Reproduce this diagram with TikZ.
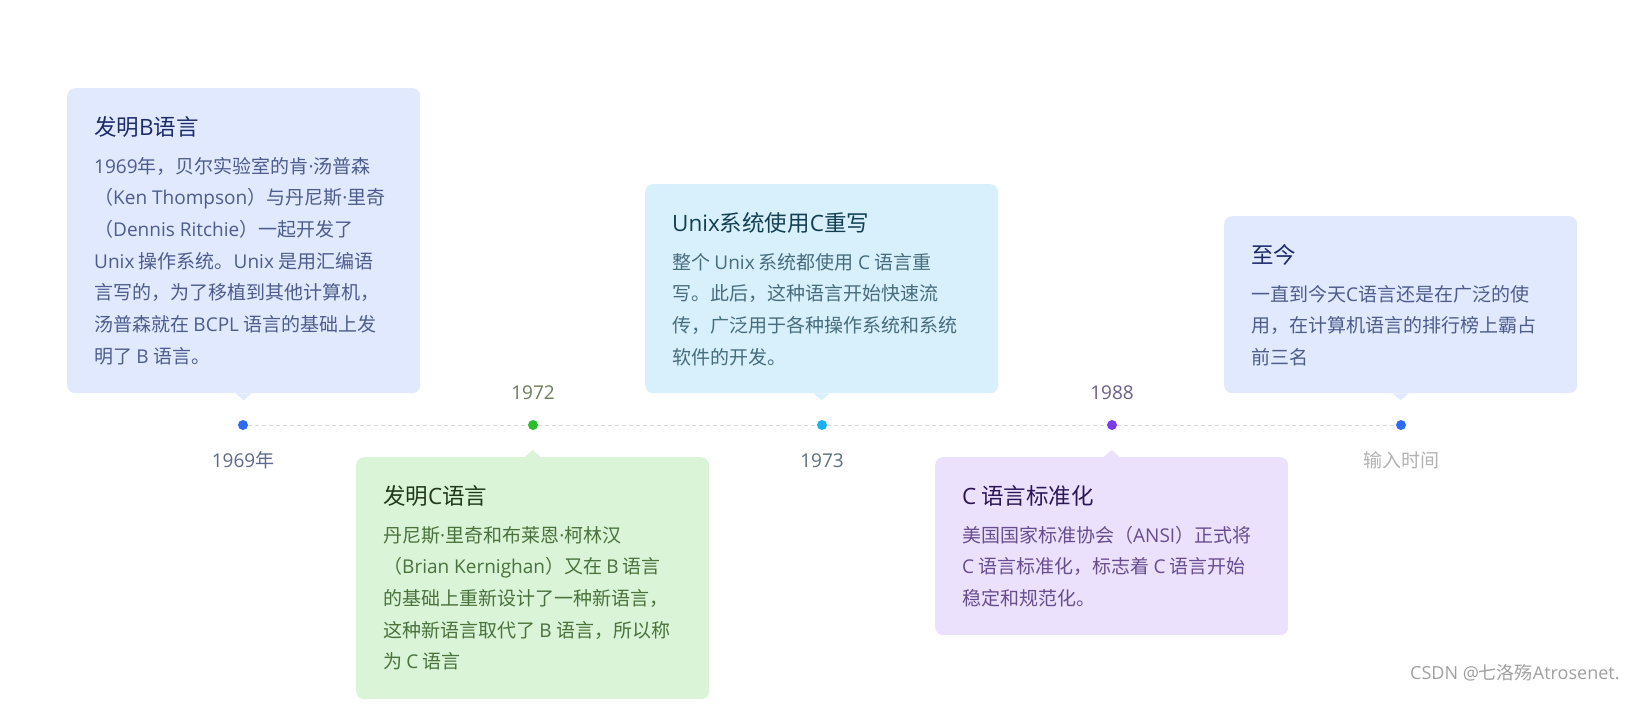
\documentclass[tikz,border=0pt]{standalone}
\usepackage{fontspec}
\setmainfont{Noto Sans CJK SC}
\newfontfamily\latinf{Open Sans}
\newcommand\LT[1]{{\latinf #1}}
\newcommand\md{{\latinf ·}}
\definecolor{bgB}{HTML}{E1E9FE}
\definecolor{bgG}{HTML}{D9F4D6}
\definecolor{bgC}{HTML}{D7F0FB}
\definecolor{bgP}{HTML}{EBE1FC}
\definecolor{tiB}{HTML}{1D2B6B}
\definecolor{tiG}{HTML}{22381A}
\definecolor{tiC}{HTML}{123F52}
\definecolor{tiP}{HTML}{2C1657}
\definecolor{txB}{HTML}{4D5C8C}
\definecolor{txG}{HTML}{4A723C}
\definecolor{txC}{HTML}{476C7E}
\definecolor{txP}{HTML}{684C90}
\definecolor{yB}{HTML}{5B6A8E}
\definecolor{yG}{HTML}{6C7C5C}
\definecolor{yC}{HTML}{5C7080}
\definecolor{yP}{HTML}{6E5E88}
\definecolor{dB}{HTML}{2E6BF5}
\definecolor{dG}{HTML}{2BC02B}
\definecolor{dC}{HTML}{18B0F0}
\definecolor{dP}{HTML}{7A3BEE}
\definecolor{lineC}{HTML}{D9D9D9}
\definecolor{wm}{HTML}{A0A0A0}
\newcommand\bodylines[1]{\vtop{\baselineskip=31.7pt\lineskiplimit=-50pt\lineskip=0pt #1}}
\tikzset{
  card/.style={rectangle, rounded corners=8pt, draw=none, minimum width=353pt, anchor=north west, inner sep=0pt},
  ttl/.style={anchor=base west, inner sep=0pt, font=\fontsize{22.5}{27}\selectfont},
  bodytxt/.style={anchor=base west, inner sep=0pt, font=\fontsize{19}{31.7}\selectfont},
  dot/.style={circle, inner sep=0pt, minimum size=10pt, draw=none},
  yearlbl/.style={anchor=base, inner sep=0pt, font=\fontsize{19}{22}\selectfont},
  tl/.style={draw=lineC, line width=1pt, dash pattern=on 4pt off 3pt}
}
\begin{document}
\begin{tikzpicture}[x=1pt,y=-1pt]
\useasboundingbox[fill=white] (0,0) rectangle (1644,709);
% cards
\node[card, fill=bgB, minimum height=305pt] (b1) at (67,88) {};
\node[card, fill=bgG, minimum height=242pt] (b2) at (356,457) {};
\node[card, fill=bgC, minimum height=209pt] (b3) at (645,184) {};
\node[card, fill=bgP, minimum height=178pt] (b4) at (935,457) {};
\node[card, fill=bgB, minimum height=177pt] (b5) at (1224,216) {};
% pointers
\fill[bgB] ([xshift=-8pt]b1.south) -- ([yshift=-7pt]b1.south) -- ([xshift=8pt]b1.south) -- cycle;
\fill[bgG] ([xshift=-8pt]b2.north) -- ([yshift=7pt]b2.north) -- ([xshift=8pt]b2.north) -- cycle;
\fill[bgC] ([xshift=-8pt]b3.south) -- ([yshift=-7pt]b3.south) -- ([xshift=8pt]b3.south) -- cycle;
\fill[bgP] ([xshift=-8pt]b4.north) -- ([yshift=7pt]b4.north) -- ([xshift=8pt]b4.north) -- cycle;
\fill[bgB] ([xshift=-8pt]b5.south) -- ([yshift=-7pt]b5.south) -- ([xshift=8pt]b5.south) -- cycle;
% titles
\node[ttl, text=tiB] (t1) at ([xshift=27pt,yshift=-47pt]b1.north west) {发明\LT{B}语言};
\node[ttl, text=tiG] (t2) at ([xshift=27pt,yshift=-47pt]b2.north west) {发明\LT{C}语言};
\node[ttl, text=tiC] (t3) at ([xshift=27pt,yshift=-47pt]b3.north west) {\LT{Unix}系统使用\LT{C}重写};
\node[ttl, text=tiP] (t4) at ([xshift=27pt,yshift=-47pt]b4.north west) {\LT{C} 语言标准化};
\node[ttl, text=tiB] (t5) at ([xshift=27pt,yshift=-47pt]b5.north west) {至今};
% bodies
\node[bodytxt, text=txB] (x1) at ([xshift=27pt,yshift=-85pt]b1.north west) {\bodylines{%
\hbox{\LT{1969}年，贝尔实验室的肯\md 汤普森}
\hbox{（\LT{Ken Thompson}）与丹尼斯\md 里奇}
\hbox{（\LT{Dennis Ritchie}）一起开发了}
\hbox{\LT{Unix} 操作系统。\LT{Unix} 是用汇编语}
\hbox{言写的，为了移植到其他计算机，}
\hbox{汤普森就在 \LT{BCPL} 语言的基础上发}
\hbox{明了 \LT{B} 语言。}}};
\node[bodytxt, text=txG] (x2) at ([xshift=27pt,yshift=-85pt]b2.north west) {\bodylines{%
\hbox{丹尼斯\md 里奇和布莱恩\md 柯林汉}
\hbox{（\LT{Brian Kernighan}）又在 \LT{B} 语言}
\hbox{的基础上重新设计了一种新语言，}
\hbox{这种新语言取代了 \LT{B} 语言，所以称}
\hbox{为 \LT{C} 语言}}};
\node[bodytxt, text=txC] (x3) at ([xshift=27pt,yshift=-85pt]b3.north west) {\bodylines{%
\hbox{整个 \LT{Unix} 系统都使用 \LT{C} 语言重}
\hbox{写。此后，这种语言开始快速流}
\hbox{传，广泛用于各种操作系统和系统}
\hbox{软件的开发。}}};
\node[bodytxt, text=txP] (x4) at ([xshift=27pt,yshift=-85pt]b4.north west) {\bodylines{%
\hbox{美国国家标准协会（\LT{ANSI}）正式将}
\hbox{\LT{C} 语言标准化，标志着 \LT{C} 语言开始}
\hbox{稳定和规范化。}}};
\node[bodytxt, text=txB] (x5) at ([xshift=27pt,yshift=-85pt]b5.north west) {\bodylines{%
\hbox{一直到今天\LT{C}语言还是在广泛的使}
\hbox{用，在计算机语言的排行榜上霸占}
\hbox{前三名}}};
% timeline dots
\node[dot, fill=dB] (d1) at (243,425) {};
\node[dot, fill=dG] (d2) at (533,425) {};
\node[dot, fill=dC] (d3) at (822,425) {};
\node[dot, fill=dP] (d4) at (1112,425) {};
\node[dot, fill=dB] (d5) at (1401,425) {};
\draw[tl] (d1) -- (d2);
\draw[tl] (d2) -- (d3);
\draw[tl] (d3) -- (d4);
\draw[tl] (d4) -- (d5);
% year labels
\node[yearlbl, text=yB] (y1) at (243,467) {\LT{1969}年};
\node[yearlbl, text=yG] (y2) at (533,399) {\LT{1972}};
\node[yearlbl, text=yC] (y3) at (822,467) {\LT{1973}};
\node[yearlbl, text=yP] (y4) at (1112,399) {\LT{1988}};
\node[yearlbl, text=wm!80] (y5) at (1401,467) {输入时间};
% watermark
\node[anchor=base west, inner sep=0pt, text=wm, font=\fontsize{18}{20}\selectfont] (w) at (1410,679) {\LT{CSDN @}七洛殇\LT{Atrosenet.}};
\end{tikzpicture}
\end{document}
